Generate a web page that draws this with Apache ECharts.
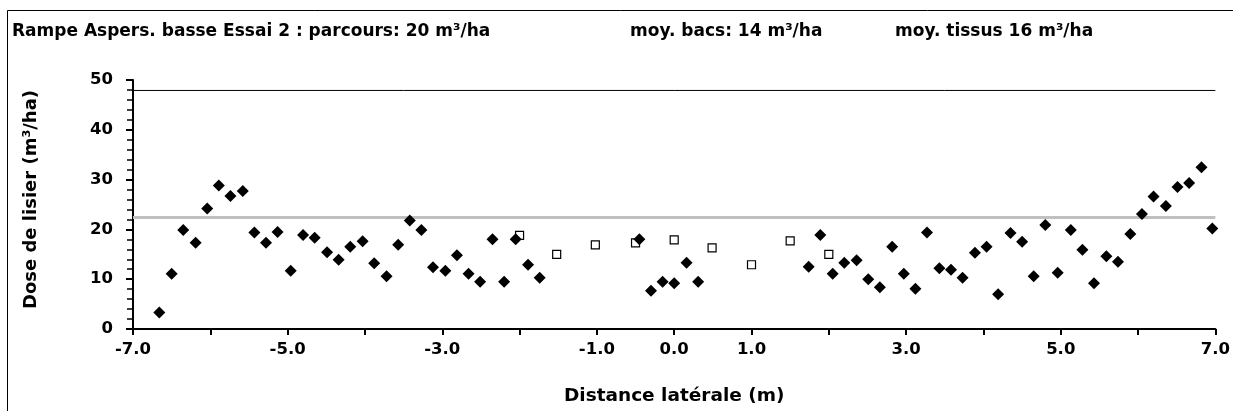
<!DOCTYPE html>
<html><head><meta charset="utf-8">
<script src="https://cdn.jsdelivr.net/npm/echarts@6/dist/echarts.min.js"></script>
<style>html,body{margin:0;padding:0;background:#fff}#c{width:1233px;height:411px}</style>
</head><body><div id="c"></div>
<script>
// Diamonds (filled) : [distance, dose]
const diamondPts = [[-6.66,3.3],[-6.50,11.1],[-6.35,19.9],[-6.19,17.3],[-6.04,24.2],[-5.89,28.8],[-5.74,26.7],[-5.58,27.7],[-5.43,19.4],[-5.28,17.3],[-5.13,19.5],[-4.96,11.7],[-4.80,18.9],[-4.65,18.3],[-4.49,15.4],[-4.34,13.9],[-4.19,16.5],[-4.03,17.6],[-3.88,13.2],[-3.72,10.6],[-3.57,16.9],[-3.42,21.8],[-3.27,19.9],[-3.12,12.4],[-2.96,11.7],[-2.81,14.8],[-2.66,11.1],[-2.51,9.5],[-2.35,18.0],[-2.20,9.5],[-2.05,18.0],[-1.89,12.9],[-1.74,10.3],[-0.45,18.0],[-0.30,7.7],[-0.15,9.5],[0.0,9.2],[0.16,13.3],[0.31,9.5],[1.74,12.5],[1.89,18.9],[2.05,11.1],[2.20,13.3],[2.36,13.8],[2.51,10.0],[2.66,8.4],[2.82,16.5],[2.97,11.1],[3.12,8.1],[3.27,19.4],[3.43,12.2],[3.58,11.9],[3.73,10.3],[3.89,15.3],[4.04,16.5],[4.19,7.0],[4.35,19.3],[4.50,17.5],[4.65,10.6],[4.80,20.9],[4.96,11.3],[5.13,19.9],[5.28,15.9],[5.43,9.2],[5.59,14.6],[5.74,13.5],[5.90,19.1],[6.05,23.1],[6.20,26.6],[6.36,24.7],[6.51,28.5],[6.66,29.3],[6.82,32.5],[6.96,20.2]];
// Open squares : [distance, dose]
const squarePts = [[-2.0,18.8],[-1.52,15.0],[-1.02,16.9],[-0.5,17.3],[0.0,17.9],[0.49,16.3],[1.0,12.9],[1.5,17.7],[2.0,15.0]];
// Reference lines
const blackLine = [[-7,47.9],[7,47.9]];
const grayLine = [[-7,22.4],[7,22.4]];
const titles = ['Rampe Aspers. basse Essai 2 : parcours: 20 m³/ha','moy. bacs: 14 m³/ha','moy. tissus 16 m³/ha'];
const xLabelValues = [-7,-5,-3,-1,0,1,3,5,7];

const FF = 'DejaVu Sans, sans-serif';
const chart = echarts.init(document.getElementById('c'), null, {renderer:'canvas'});
const titleX = [12, 630, 895];
chart.setOption({
  animation:false,
  backgroundColor:'#fff',
  title: titles.map((t,i)=>({text:t,left:titleX[i],top:23,padding:0,
    textStyle:{fontFamily:FF,fontSize:17,fontWeight:'bold',color:'#000'}})),
  graphic:[{type:'rect',shape:{x:7.5,y:10.5,width:1260,height:420},
    style:{fill:null,stroke:'#000',lineWidth:1},silent:true}],
  grid:{left:133,right:14,top:80,bottom:81,containLabel:false},
  xAxis:{type:'value',min:-7,max:7,interval:1,
    name:'Distance latérale (m)',nameLocation:'middle',nameGap:58,
    nameTextStyle:{fontFamily:FF,fontSize:18.5,fontWeight:'bold',color:'#000'},
    axisLine:{show:true,onZero:false,lineStyle:{color:'#000',width:2}},
    axisTick:{show:true,length:6,lineStyle:{color:'#000',width:2}},
    splitLine:{show:false},
    axisLabel:{margin:12,fontFamily:FF,fontSize:16.5,fontWeight:'bold',color:'#000',
      formatter:v=>xLabelValues.indexOf(Math.round(v*10)/10)>=0?v.toFixed(1):''}},
  yAxis:{type:'value',min:0,max:50,interval:10,
    name:'Dose de lisier (m³/ha)',nameLocation:'middle',nameGap:93,
    nameTextStyle:{fontFamily:FF,fontSize:18,fontWeight:'bold',color:'#000',padding:[0,0,0,10]},
    axisLine:{show:true,onZero:false,lineStyle:{color:'#000',width:2}},
    axisTick:{show:true,length:7,lineStyle:{color:'#000',width:2}},
    minorTick:{show:true,splitNumber:5,length:6,lineStyle:{color:'#000',width:1.5}},
    splitLine:{show:false},
    axisLabel:{margin:20,fontFamily:FF,fontSize:16.5,fontWeight:'bold',color:'#000'}},
  series:[
    {type:'line',data:blackLine,symbol:'none',lineStyle:{color:'#000',width:1},z:1,silent:true},
    {type:'line',data:grayLine,symbol:'none',lineStyle:{color:'#c0c0c0',width:3},z:1,silent:true},
    {type:'scatter',data:squarePts,symbol:'rect',symbolSize:8,
      itemStyle:{color:'#fff',borderColor:'#000',borderWidth:1.2,opacity:1},z:2},
    {type:'scatter',data:diamondPts,symbol:'diamond',symbolSize:[12,12],
      itemStyle:{color:'#000',opacity:1},z:3}
  ]
});
</script></body></html>
